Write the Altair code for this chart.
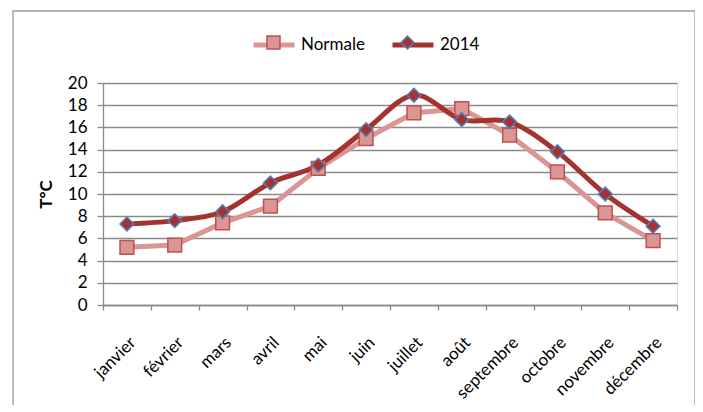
import altair as alt
import pandas as pd

mois = ["janvier", "février", "mars", "avril", "mai", "juin", "juillet",
        "août", "septembre", "octobre", "novembre", "décembre"]
normale = [5.2, 5.4, 7.4, 8.9, 12.3, 15.0, 17.3, 17.7, 15.3, 12.0, 8.3, 5.8]
annee_2014 = [7.3, 7.6, 8.4, 11.0, 12.6, 15.8, 18.9, 16.7, 16.5, 13.8, 10.0, 7.1]
series = ["Normale", "2014"]
y_ticks = list(range(0, 21, 2))

rows = []
for s, vals in zip(series, [normale, annee_2014]):
    for m, v in zip(mois, vals):
        rows.append({"mois": m, "serie": s, "serie_pt": s, "temp": v})
df = pd.DataFrame(rows)

FONT = "Lato"
GREY = "#8a8a8a"
line_colors = ["#d99694", "#a5322f"]
fill_colors = ["#d99694", "#a5322f"]
stroke_colors = ["#c0504d", "#4f81bd"]

x_enc = alt.X(
    "mois:N", sort=mois,
    scale=alt.Scale(type="band", paddingInner=0, paddingOuter=0),
    axis=alt.Axis(title=None, labelAngle=-45, labelFont=FONT, labelFontSize=17,
                  labelColor="black", tickBand="extent", tickSize=5,
                  tickColor=GREY, tickWidth=1.3, domainColor=GREY,
                  domainWidth=1.3, grid=False, labelPadding=24),
)
y_enc = alt.Y(
    "temp:Q", scale=alt.Scale(domain=[0, 20]),
    axis=alt.Axis(values=y_ticks, title="T°C", titleFont=FONT, titleFontSize=17,
                  titleFontWeight="bold", titleColor="black", titlePadding=12,
                  labelFont=FONT, labelFontSize=17, labelColor="black",
                  labelPadding=10, tickSize=6, tickColor=GREY, tickWidth=1.3,
                  domainColor=GREY, domainWidth=1.3, grid=True,
                  gridColor=GREY, gridWidth=1.3),
)

line_legend = alt.Legend(
    title=None, orient="none", legendX=148, legendY=-61, direction="horizontal",
    symbolType="stroke", symbolSize=1681, symbolStrokeWidth=5,
    labelFont=FONT, labelFontSize=17, labelColor="black", labelOffset=4,
    columnPadding=17, padding=0,
)
shape_legend = alt.Legend(
    title=None, orient="none", legendX=162, legendY=-49, direction="horizontal",
    symbolSize=169, symbolStrokeWidth=1.5, symbolOpacity=1,
    labelExpr="''", labelFontSize=17, labelOffset=0,
    columnPadding=115, padding=0,
)

color_enc = alt.Color("serie:N", sort=series, scale=alt.Scale(range=line_colors),
                      legend=line_legend)

base = alt.Chart(df).encode(x=x_enc, y=y_enc)

frame = alt.Chart(df).mark_rect(fill=None, stroke="#9a9a9a", strokeWidth=1.3).encode(
    x=alt.value(-90), x2=alt.value(592), y=alt.value(-72), y2=alt.value(340)
).transform_filter("datum.mois == 'janvier' && datum.serie == 'Normale'")

line_norm = base.transform_filter("datum.serie == 'Normale'").mark_line(
    strokeWidth=5, interpolate="linear").encode(color=color_enc)
line_2014 = base.transform_filter("datum.serie == '2014'").mark_line(
    strokeWidth=5, interpolate="cardinal").encode(color=color_enc)

points = base.mark_point(filled=True, opacity=1, size=190, strokeWidth=1.5).encode(
    shape=alt.Shape("serie_pt:N",
                    scale=alt.Scale(domain=series, range=["square", "diamond"]),
                    legend=shape_legend),
    fill=alt.Fill("serie_pt:N",
                  scale=alt.Scale(domain=series, range=fill_colors),
                  legend=shape_legend),
    stroke=alt.Stroke("serie_pt:N",
                      scale=alt.Scale(domain=series, range=stroke_colors),
                      legend=shape_legend),
)

chart = alt.layer(frame, line_norm, line_2014, points).properties(
    width=574, height=222,
    padding={"left": 95, "top": 75, "right": 18, "bottom": 100},
    autosize=alt.AutoSizeParams(type="none"),
).configure_view(strokeWidth=0).configure(font=FONT, background="white")

chart.save("out.html", embed_options={"renderer": "svg", "actions": False})
